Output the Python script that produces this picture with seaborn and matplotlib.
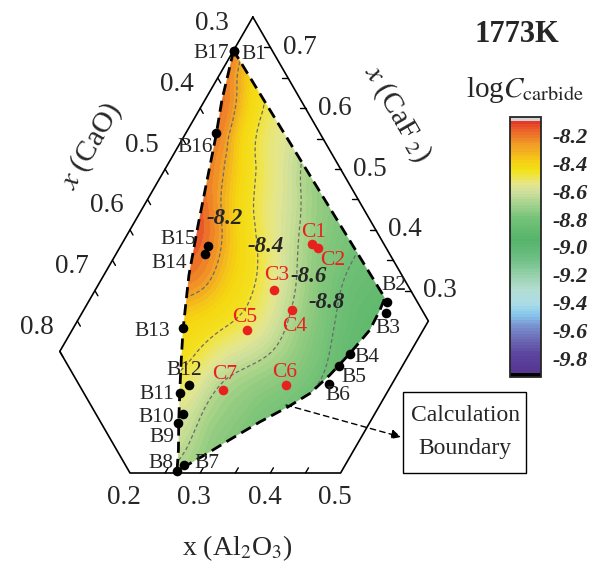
import numpy as np
import matplotlib
matplotlib.use("Agg")
import matplotlib.pyplot as plt
import matplotlib.tri as mtri
import matplotlib.cm as cm
from matplotlib.colors import LinearSegmentedColormap, BoundaryNorm
from matplotlib.patches import Polygon, Rectangle
import seaborn as sns

# ---- data ----
# logC(carbide) on a composition grid (rows: x(CaO), columns: x(Al2O3)); nan = x(CaF2) < 0
al2o3_grid = [0.00, 0.05, 0.10, 0.15, 0.20, 0.25, 0.30, 0.35, 0.40, 0.45]
cao_grid = [0.25, 0.30, 0.35, 0.40, 0.45, 0.50, 0.55, 0.60, 0.65, 0.70, 0.75]
nan = np.nan
logc_grid = [
    [-8.20, -8.36, -8.50, -8.60, -8.66, -8.71, -8.76, -8.81, -8.87, -8.93],
    [-8.15, -8.30, -8.44, -8.53, -8.62, -8.68, -8.745, -8.81, -8.87, -8.93],
    [-8.12, -8.20, -8.38, -8.47, -8.545, -8.625, -8.71, -8.80, -8.87, -8.93],
    [-8.12, -8.15, -8.265, -8.395, -8.477, -8.557, -8.647, -8.749, -8.84, -8.90],
    [-8.12, -8.13, -8.184, -8.278, -8.373, -8.483, -8.60, -8.706, -8.81, -8.87],
    [-8.10, -8.10, -8.112, -8.197, -8.324, -8.457, -8.596, -8.718, -8.82, -8.85],
    [-8.10, -8.11, -8.115, -8.20, -8.356, -8.52, -8.655, -8.76, -8.80, -8.82],
    [-8.10, -8.12, -8.16, -8.28, -8.41, -8.584, -8.684, -8.77, -8.80, nan],
    [-8.14, -8.18, -8.25, -8.33, -8.44, -8.59, -8.69, -8.74, nan, nan],
    [-8.20, -8.28, -8.35, -8.43, -8.50, -8.58, -8.68, nan, nan, nan],
    [-8.25, -8.33, -8.42, -8.50, -8.55, -8.60, nan, nan, nan, nan],
]

# calculation boundary (x(Al2O3), x(CaO))
bound_al2o3 = [0.000, 0.012, 0.024, 0.045, 0.061, 0.077, 0.093, 0.107, 0.121, 0.138,
               0.158, 0.180, 0.203, 0.226, 0.250, 0.265, 0.273, 0.292, 0.315, 0.343,
               0.371, 0.391, 0.404, 0.415, 0.424, 0.422, 0.419]
bound_cao = [0.305, 0.333, 0.362, 0.400, 0.433, 0.466, 0.499, 0.526, 0.553, 0.578,
             0.607, 0.634, 0.661, 0.687, 0.712, 0.731, 0.716, 0.678, 0.630, 0.573,
             0.520, 0.478, 0.435, 0.388, 0.341, 0.310, 0.293]

b_names = ["B1", "B2", "B3", "B4", "B5", "B6", "B7", "B8", "B9",
           "B10", "B11", "B12", "B13", "B14", "B15", "B16", "B17"]
b_al2o3 = [0.001, 0.425, 0.433, 0.416, 0.410, 0.410, 0.270, 0.265, 0.227,
           0.227, 0.205, 0.212, 0.156, 0.127, 0.124, 0.043, 0.001]
b_cao = [0.305, 0.293, 0.304, 0.389, 0.414, 0.443, 0.717, 0.731, 0.691,
         0.676, 0.663, 0.644, 0.605, 0.513, 0.502, 0.398, 0.305]
# label offsets in pixels (right, down)
b_offsets = [(20, 3), (7, -16), (2, 15), (17, 3), (15, 11), (9, 12), (23, -2), (-16, -7), (-16, 14),
             (-27, 3), (-23, 2), (-5, -15), (-31, 4), (-36, 9), (-30, -6), (-21, 14), (-23, 2)]

c_names = ["C1", "C2", "C3", "C4", "C5", "C6", "C7"]
c_al2o3 = [0.271, 0.283, 0.255, 0.297, 0.249, 0.350, 0.264]
c_cao = [0.352, 0.347, 0.444, 0.435, 0.516, 0.506, 0.599]
c_offsets = [(1, -11), (15, 12), (2, -15), (3, 16), (-2, -13), (-1, -13), (2, -15)]

contour_levels = [-8.8, -8.6, -8.4, -8.2]
contour_label_pos = [(327, 303), (309, 277), (266, 247), (225, 219)]

cbar_ticks = [-9.8, -9.6, -9.4, -9.2, -9.0, -8.8, -8.6, -8.4, -8.2]


def tern(a, c):
    a = np.asarray(a, dtype=float)
    c = np.asarray(c, dtype=float)
    f = 1.0 - a - c
    return a + f / 2.0, f * np.sqrt(3) / 2.0


def px(x, y):
    # picture pixel -> axes data coordinate
    return (x + 10.4) / 702.0, (473.0 - y) / 702.0


def make_cmap(vals, cols, name):
    pos = [(v - vals[0]) / (vals[-1] - vals[0]) for v in vals]
    return LinearSegmentedColormap.from_list(name, list(zip(pos, cols)), N=512)


sns.set_style("white")
plt.rcParams["font.family"] = ["Liberation Serif", "DejaVu Serif"]
plt.rcParams["mathtext.fontset"] = "stix"
plt.rcParams["axes.unicode_minus"] = False

fig = plt.figure(figsize=(5.97, 5.68), dpi=100)
ax = fig.add_axes([0, 0, 1, 1])
ax.set_xlim(10.4 / 702, 607.4 / 702)
ax.set_ylim(-95 / 702, 473 / 702)
ax.set_axis_off()

# colour scale as printed on the colour bar
cb_vals = [-9.9, -9.75, -9.65, -9.55, -9.48, -9.4, -9.3, -9.2, -9.08, -8.95, -8.8,
           -8.7, -8.61, -8.55, -8.47, -8.4, -8.34, -8.27, -8.2, -8.14, -8.1]
cb_cols = ["#553590", "#5c46a0", "#6c6cb6", "#7a96d2", "#88c8ec", "#acdce6", "#b2ddd0",
           "#96d0aa", "#6cbe84", "#56b46a", "#74c278", "#a4d28e", "#cfe09c", "#e8e688",
           "#f2e41c", "#f6d014", "#f4b41e", "#f09a28", "#ec6e2a", "#e64a2a", "#e3262a"]
# colour scale as it appears inside the ternary field
map_vals = [-9.9, -9.5, -9.2, -9.0, -8.9, -8.8, -8.72, -8.65, -8.6, -8.55, -8.5, -8.44,
            -8.38, -8.3, -8.24, -8.18, -8.13, -8.1]
map_cols = ["#553590", "#88c8ec", "#96d0aa", "#58b66c", "#60b96e", "#6ebf74", "#82c67b",
            "#9acf84", "#b6d88e", "#cfe09a", "#e2e690", "#eee660", "#f4e022", "#f5d810",
            "#f5c21a", "#f29c26", "#ec7428", "#e6502a"]
levels = np.linspace(-9.9, -8.1, 91)

map_cmap = make_cmap(map_vals, map_cols, "logc_map")
map_cmap.set_over(map_cols[-1])
map_cmap.set_under(map_cols[0])

# field
A, C = np.meshgrid(al2o3_grid, cao_grid)
Z = np.array(logc_grid, dtype=float)
ok = ~np.isnan(Z)
X, Y = tern(A[ok], C[ok])
tri = mtri.Triangulation(X, Y)
tri_r, z_r = mtri.UniformTriRefiner(tri).refine_field(Z[ok], subdiv=4)

bx, by = tern(bound_al2o3, bound_cao)
clip = Polygon(np.column_stack([bx, by]), closed=True, fc="none", ec="none",
               transform=ax.transData)
ax.add_patch(clip)

cs = ax.tricontourf(tri_r, z_r, levels=levels, cmap=map_cmap, extend="both", zorder=1)
cs.set_clip_path(clip)
cl = ax.tricontour(tri_r, z_r, levels=contour_levels, colors="0.42", linewidths=0.9,
                   linestyles=[(0, (3, 2))], zorder=2)
cl.set_clip_path(clip)

# dashed calculation boundary
ax.plot(np.append(bx, bx[0]), np.append(by, by[0]), color="black", lw=2.0,
        linestyle=(0, (4, 2.2)), zorder=3)

# frame (truncated ternary)
fa = [0.0, 0.0, 0.2, 0.5, 0.5, 0.0]
fc = [0.25, 0.8, 0.8, 0.5, 0.25, 0.25]
fx, fy = tern(fa, fc)
ax.plot(fx, fy, color="black", lw=1.2, zorder=3)

tl = 6 / 702
s3 = np.sqrt(3) / 2
for c in np.arange(0.30, 0.801, 0.05):
    x0, y0 = tern(0.0, c)
    ax.plot([x0, x0 + 0.5 * tl], [y0, y0 - s3 * tl], color="black", lw=1.0, zorder=3)
for f in np.arange(0.30, 0.701, 0.05):
    x0, y0 = tern(0.75 - f, 0.25)
    ax.plot([x0, x0 - tl], [y0, y0], color="black", lw=1.0, zorder=3)
for a in np.arange(0.25, 0.451, 0.05):
    x0, y0 = tern(a, 1 - a)
    ax.plot([x0, x0 + 0.5 * tl], [y0, y0 + s3 * tl], color="black", lw=1.0, zorder=3)

tick_fs = 19.5
for c in [0.3, 0.4, 0.5, 0.6, 0.7, 0.8]:
    x0, y0 = tern(0.0, c)
    ax.text(x0 - 23 / 702, y0 + 24 / 702, f"{c:.1f}", fontsize=tick_fs, ha="center", va="center")
for f in [0.3, 0.4, 0.5, 0.6, 0.7]:
    x0, y0 = tern(0.75 - f, 0.25)
    ax.text(x0 + 29 / 702, y0, f"{f:.1f}", fontsize=tick_fs, ha="center", va="center")
for a in [0.2, 0.3, 0.4, 0.5]:
    x0, y0 = tern(a, 1 - a)
    ax.text(x0 - 6 / 702, y0 - 25 / 702, f"{a:.1f}", fontsize=tick_fs, ha="center", va="center")

ax.text(*px(91, 146), r"$x$ (CaO)", fontsize=21, rotation=60, ha="center", va="center")
ax.text(*px(397, 113), r"$x$ (CaF$_{\ 2}$)", fontsize=21, rotation=-60, ha="center", va="center")
ax.text(*px(237, 548), r"x (Al$_2$O$_3$)", fontsize=20, ha="center", va="center")

# points
pbx, pby = tern(b_al2o3, b_cao)
pcx, pcy = tern(c_al2o3, c_cao)
sns.scatterplot(x=pbx, y=pby, color="black", s=48, linewidth=0, ax=ax, zorder=4, legend=False)
sns.scatterplot(x=pcx, y=pcy, color="#e8211f", s=48, linewidth=0, ax=ax, zorder=4, legend=False)
for name, x0, y0, (dx, dy) in zip(b_names, pbx, pby, b_offsets):
    ax.annotate(name, (x0, y0), xytext=(dx, -dy), textcoords="offset pixels",
                fontsize=15.5, ha="center", va="center", zorder=5)
for name, x0, y0, (dx, dy) in zip(c_names, pcx, pcy, c_offsets):
    ax.annotate(name, (x0, y0), xytext=(dx, -dy), textcoords="offset pixels",
                fontsize=15.5, color="#e8211f", ha="center", va="center", zorder=5)

for lev, (x, y) in zip(contour_levels, contour_label_pos):
    ax.text(*px(x, y), f"{lev:.1f}", fontsize=16.5, fontweight="bold", fontstyle="italic",
            ha="center", va="center", zorder=5)

# annotation box + arrow
ax.add_patch(Rectangle(px(403, 473), 123 / 702, 81 / 702, fc="white", ec="black", lw=1.0, zorder=4))
ax.text(*px(465, 432), "Calculation\nBoundary", fontsize=17, ha="center", va="center",
        linespacing=1.75, zorder=5)
ax.annotate("", xy=px(401, 437), xytext=px(286, 405),
            arrowprops=dict(arrowstyle="-|>", linestyle=(0, (4, 3)), color="black", lw=1.0,
                            mutation_scale=14, shrinkA=0, shrinkB=0), zorder=5)

# titles
ax.text(*px(517, 35), "1773K", fontsize=22, fontweight="bold", ha="center", va="center")
ax.text(*px(525, 90), r"log$C_{\mathrm{carbide}}$", fontsize=21, ha="center", va="center")

# colorbar
cb_cmap = make_cmap(cb_vals, cb_cols, "logc_bar")
cb_cmap.set_over("#d4d4d4")
cb_cmap.set_under("black")
norm = BoundaryNorm(levels, cb_cmap.N, extend="both")
cax = fig.add_axes([510 / 597, (568 - 377) / 568, 31 / 597, 260 / 568])
cb = fig.colorbar(cm.ScalarMappable(norm=norm, cmap=cb_cmap), cax=cax, extend="both",
                  extendrect=True, extendfrac=0.016, ticks=cbar_ticks, drawedges=False)
cb.outline.set_linewidth(1.3)
cb.ax.yaxis.set_ticks_position("right")
cb.ax.tick_params(direction="in", length=7, width=1.1, pad=8, labelsize=16)
cb.ax.set_yticklabels([f"{t:.1f}" for t in cbar_ticks], fontweight="bold", fontstyle="italic")
cb.ax.minorticks_off()

fig.savefig("out.png", dpi=100)
